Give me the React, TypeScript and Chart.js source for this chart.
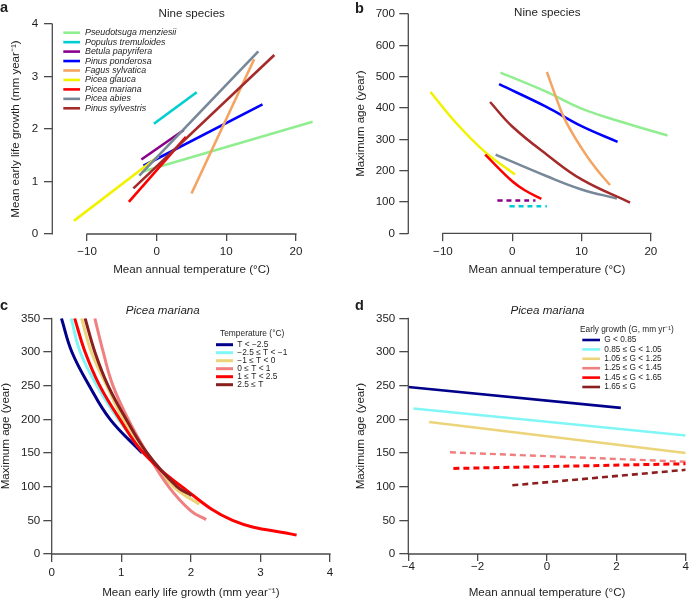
import React, { useEffect, useRef } from "react";
import { Chart, registerables } from "chart.js";
Chart.register(...registerables);

const FONT = "'Liberation Sans', Arial, Helvetica, sans-serif";
const INK = "#1e1e1e";
const AXIS = "#4a4a4a";

// ---------------- Panel a / b : nine species ----------------
const speciesLabels = [
  "Pseudotsuga menziesii",
  "Populus tremuloides",
  "Betula papyrifera",
  "Pinus ponderosa",
  "Fagus sylvatica",
  "Picea glauca",
  "Picea mariana",
  "Picea abies",
  "Pinus sylvestris",
];
const speciesColors = ["#90EE90", "#00CED1", "#8B008B", "#0000FF", "#F4A460", "#F2F200", "#FF0000", "#778899", "#A52A2A"];

// panel a: mean early life growth vs temperature [temp, growth]
const growthPseudotsuga = [[-2.0, 1.19], [22.4, 2.14]];
const growthPopulus = [[-0.4, 2.1], [5.75, 2.7]];
const growthBetula = [[-2.2, 1.42], [3.9, 1.98]];
const growthPonderosa = [[-1.9, 1.3], [15.2, 2.47]];
const growthFagus = [[5.0, 0.77], [14.0, 3.33]];
const growthGlauca = [[-11.9, 0.25], [0.25, 1.48]];
const growthMariana = [[-4.0, 0.61], [4.2, 1.85]];
const growthAbies = [[-2.5, 1.11], [14.6, 3.48]];
const growthSylvestris = [[-3.35, 0.87], [16.9, 3.41]];

// panel b: maximum age vs temperature [temp, age]
const agePseudotsuga = [[-1.7, 513], [4.8, 453], [10, 398], [16.3, 352], [22.4, 312]];
const agePopulus = [[-0.4, 86], [5.0, 86]];
const ageBetula = [[-2.15, 105], [3.35, 105]];
const agePonderosa = [[-1.9, 476], [4.8, 405], [10, 342], [15.2, 292]];
const ageFagus = [[5.0, 515], [6.3, 435], [7.6, 363], [10, 272], [12, 209], [14.1, 154]];
const ageGlauca = [[-11.8, 451], [-8.1, 352], [-3.9, 259], [0.4, 188]];
const ageMariana = [[-3.9, 251], [0, 166], [2, 135], [4.2, 110]];
const ageAbies = [[-2.4, 251], [5, 182], [10, 140], [15.1, 111]];
const ageSylvestris = [[-3.2, 419], [0, 341], [5, 251], [10, 172], [17, 98]];

// ---------------- Panel c : Picea mariana, by temperature class ----------------
const tempLabels = ["T < \u22122.5", "\u22122.5 \u2264 T < \u22121", "\u22121 \u2264 T < 0", "0 \u2264 T < 1", "1 \u2264 T < 2.5", "2.5 \u2264 T"];
const tempColors = ["#00008B", "#80F6F6", "#EBD47A", "#F08080", "#FF0000", "#8B1E1E"];
const ageTempA = [[0.14, 350], [0.29, 300], [0.54, 250], [0.84, 200], [1.3, 150]];
const ageTempB = [[0.28, 350], [0.41, 300], [0.65, 250], [0.96, 200], [1.32, 150], [1.42, 140]];
const ageTempC = [[0.43, 350], [0.57, 300], [0.79, 250], [1.03, 200], [1.37, 150], [1.75, 100], [2.12, 74]];
const ageTempD = [[0.62, 350], [0.74, 300], [0.88, 250], [1.1, 200], [1.37, 150], [1.68, 100], [2.0, 64], [2.22, 51]];
const ageTempE = [[0.33, 350], [0.48, 300], [0.69, 250], [0.98, 200], [1.32, 150], [1.87, 100], [2.6, 50], [3.52, 28]];
const ageTempF = [[0.48, 350], [0.62, 300], [0.81, 250], [1.07, 200], [1.37, 150], [1.8, 100], [2.01, 87]];

// ---------------- Panel d : Picea mariana, by early growth class ----------------
const growthClassLabels = ["G < 0.85", "0.85 \u2264 G < 1.05", "1.05 \u2264 G < 1.25", "1.25 \u2264 G < 1.45", "1.45 \u2264 G < 1.65", "1.65 \u2264 G"];
const growthClassColors = ["#00008B", "#80F6F6", "#EBD47A", "#F08080", "#FF0000", "#8B1E1E"];
const ageG1 = [[-4.0, 248], [2.13, 217]];
const ageG2 = [[-3.85, 216], [4.0, 176]];
const ageG3 = [[-3.4, 196], [4.0, 150]];
const ageG4 = [[-2.8, 151], [4.0, 137]];
const ageG5 = [[-2.7, 127], [4.0, 134]];
const ageG6 = [[-1.0, 102], [4.0, 125]];

// tick values
const tempTicks = [-10, 0, 10, 20];
const growthTicks = [0, 1, 2, 3, 4];
const ageTicks700 = [0, 100, 200, 300, 400, 500, 600, 700];
const ageTicks350 = [0, 50, 100, 150, 200, 250, 300, 350];
const growthXTicks = [0, 1, 2, 3, 4];
const tempTicksD = [-4, -2, 0, 2, 4];

function mkLine(label: string, pts: number[][], color: string, width: number, idx: number, n: number, dash?: number[], smooth?: boolean) {
  return {
    label,
    data: pts.map(([x, y]) => ({ x, y })),
    borderColor: color,
    backgroundColor: color,
    borderWidth: width,
    borderDash: dash || [],
    borderCapStyle: "butt",
    borderJoinStyle: "round",
    pointRadius: 0,
    pointHoverRadius: 0,
    fill: false,
    tension: smooth ? 0.4 : 0,
    order: n - idx,
  };
}

function fmt(v: number) {
  return v < 0 ? "\u2212" + Math.abs(v) : String(v);
}

type TextItem = { text: string; x: number; y: number; font: string; align: CanvasTextAlign; baseline: CanvasTextBaseline };
type LegendSpec = { title?: { text: string; x: number; y: number }; x0: number; x1: number; tx: number; y0: number; dy: number; font: string; lw: number };

type Spec = {
  left: number; top: number; w: number; h: number;
  area: { l: number; r: number; t: number; b: number };
  x: { min: number; max: number; ticks: number[]; tickLen: number; labPad: number; title: string; titlePad: number };
  y: { min: number; max: number; ticks: number[]; tickLen: number; labPad: number; title: string; titlePad: number };
  datasets: any[];
  texts: TextItem[];
  legend?: LegendSpec;
};

function overlay(spec: Spec) {
  return {
    id: "overlay",
    afterDraw(chart: any) {
      const ctx = chart.ctx as CanvasRenderingContext2D;
      const ca = chart.chartArea;
      const xs = chart.scales.x;
      const ys = chart.scales.y;
      ctx.save();
      // R-style axis lines spanning first to last tick
      ctx.strokeStyle = AXIS;
      ctx.lineWidth = 1.3;
      ctx.setLineDash([]);
      const xt = xs.ticks;
      const yt = ys.ticks;
      ctx.beginPath();
      ctx.moveTo(xs.getPixelForValue(xt[0].value) - 0.6, ca.bottom);
      ctx.lineTo(xs.getPixelForValue(xt[xt.length - 1].value) + 0.6, ca.bottom);
      ctx.moveTo(ca.left, ys.getPixelForValue(yt[0].value) + 0.6);
      ctx.lineTo(ca.left, ys.getPixelForValue(yt[yt.length - 1].value) - 0.6);
      ctx.stroke();
      // texts
      ctx.fillStyle = INK;
      for (const t of spec.texts) {
        ctx.font = t.font;
        ctx.textAlign = t.align;
        ctx.textBaseline = t.baseline;
        ctx.fillText(t.text, t.x, t.y);
      }
      // legend
      const lg = spec.legend;
      if (lg) {
        ctx.font = lg.font;
        ctx.textBaseline = "middle";
        ctx.textAlign = "left";
        if (lg.title) {
          ctx.fillStyle = INK;
          ctx.fillText(lg.title.text, lg.title.x, lg.title.y);
        }
        chart.data.datasets.forEach((ds: any, i: number) => {
          const y = lg.y0 + i * lg.dy;
          ctx.strokeStyle = ds.borderColor;
          ctx.lineWidth = lg.lw;
          ctx.lineCap = "butt";
          ctx.beginPath();
          ctx.moveTo(lg.x0, y);
          ctx.lineTo(lg.x1, y);
          ctx.stroke();
          ctx.fillStyle = INK;
          ctx.fillText(ds.label, lg.tx, y);
        });
      }
      ctx.restore();
    },
  };
}

function buildConfig(spec: Spec): any {
  const tickFont = { family: FONT, size: 11.6, lineHeight: 1.2 };
  const titleFont = { family: FONT, size: 11.6, lineHeight: 1 };
  return {
    type: "line",
    data: { datasets: spec.datasets },
    options: {
      responsive: false,
      animation: false,
      events: [],
      layout: { padding: { left: 0, top: spec.area.t, right: spec.w - spec.area.r, bottom: 0 } },
      plugins: { legend: { display: false }, title: { display: false }, tooltip: { enabled: false } },
      scales: {
        x: {
          type: "linear",
          position: "bottom",
          min: spec.x.min,
          max: spec.x.max,
          afterBuildTicks: (s: any) => {
            s.ticks = spec.x.ticks.map((v) => ({ value: v }));
          },
          afterFit: (s: any) => {
            s.height = spec.h - spec.area.b;
            s.paddingLeft = 0;
            s.paddingRight = 0;
          },
          grid: { display: true, drawOnChartArea: false, drawTicks: true, tickLength: spec.x.tickLen, color: AXIS, lineWidth: 1.3 },
          border: { display: false },
          ticks: { font: tickFont, color: INK, padding: spec.x.labPad, maxRotation: 0, autoSkip: false, callback: (v: number) => fmt(v) },
          title: { display: true, text: spec.x.title, font: titleFont, color: INK, padding: { top: 0, bottom: spec.x.titlePad } },
        },
        y: {
          type: "linear",
          position: "left",
          min: spec.y.min,
          max: spec.y.max,
          afterBuildTicks: (s: any) => {
            s.ticks = spec.y.ticks.map((v) => ({ value: v }));
          },
          afterFit: (s: any) => {
            s.width = spec.area.l;
            s.paddingTop = 0;
            s.paddingBottom = 0;
          },
          grid: { display: true, drawOnChartArea: false, drawTicks: true, tickLength: spec.y.tickLen, color: AXIS, lineWidth: 1.3 },
          border: { display: false },
          ticks: { font: tickFont, color: INK, padding: spec.y.labPad, autoSkip: false, callback: (v: number) => fmt(v) },
          title: { display: true, text: spec.y.title, font: titleFont, color: INK, padding: { top: spec.y.titlePad, bottom: 0 } },
        },
      },
    },
    plugins: [overlay(spec)],
  };
}

const growthSeries = [growthPseudotsuga, growthPopulus, growthBetula, growthPonderosa, growthFagus, growthGlauca, growthMariana, growthAbies, growthSylvestris];
const ageSeries = [agePseudotsuga, agePopulus, ageBetula, agePonderosa, ageFagus, ageGlauca, ageMariana, ageAbies, ageSylvestris];
const tempSeries = [ageTempA, ageTempB, ageTempC, ageTempD, ageTempE, ageTempF];
const gClassSeries = [ageG1, ageG2, ageG3, ageG4, ageG5, ageG6];

const bold = `bold 14.5px ${FONT}`;
const plain = `11.6px ${FONT}`;
const ital = `italic 11.6px ${FONT}`;
const xTitleTemp = "Mean annual temperature (\u00B0C)";
const growthTitle = "Mean early life growth (mm year\u207B\u00B9)";
const ageTitle = "Maximum age (year)";

const specA: Spec = {
  left: 0, top: 0, w: 345, h: 300,
  area: { l: 52.3, r: 330.7, t: 24, b: 234 },
  x: { min: -15, max: 25, ticks: tempTicks, tickLen: 7, labPad: 3.5, title: xTitleTemp, titlePad: 24.9 },
  y: { min: 0, max: 4, ticks: growthTicks, tickLen: 8.3, labPad: 5.7, title: growthTitle, titlePad: 10.2 },
  datasets: growthSeries.map((s, i) => mkLine(speciesLabels[i], s, speciesColors[i], 2.6, i, 9)),
  texts: [
    { text: "a", x: 0, y: 12, font: bold, align: "left", baseline: "alphabetic" },
    { text: "Nine species", x: 191.7, y: 13.3, font: plain, align: "center", baseline: "middle" },
  ],
  legend: { x0: 63.3, x1: 80, tx: 85, y0: 32.7, dy: 9.45, font: `italic 8.9px ${FONT}`, lw: 2.6 },
};

const ageDash = [null, [5, 4], [5, 4], null, null, null, null, null, null];
const specB: Spec = {
  left: 345, top: 0, w: 344, h: 300,
  area: { l: 63.3, r: 340.5, t: 14, b: 233.3 },
  x: { min: -15, max: 25, ticks: tempTicks, tickLen: 8, labPad: 4, title: xTitleTemp, titlePad: 24.9 },
  y: { min: 0, max: 700, ticks: ageTicks700, tickLen: 9, labPad: 4.3, title: ageTitle, titlePad: 9.9 },
  datasets: ageSeries.map((s, i) => mkLine(speciesLabels[i], s, speciesColors[i], 2.5, i, 9, ageDash[i] || undefined, true)),
  texts: [
    { text: "b", x: 10, y: 13, font: bold, align: "left", baseline: "alphabetic" },
    { text: "Nine species", x: 202.3, y: 13, font: plain, align: "center", baseline: "middle" },
  ],
};

const specC: Spec = {
  left: 0, top: 300, w: 345, h: 299,
  area: { l: 51.7, r: 330, t: 18.3, b: 254 },
  x: { min: 0, max: 4, ticks: growthXTicks, tickLen: 8, labPad: 4.3, title: growthTitle, titlePad: 0 },
  y: { min: 0, max: 350, ticks: ageTicks350, tickLen: 8.4, labPad: 3, title: ageTitle, titlePad: 0.4 },
  datasets: tempSeries.map((s, i) => mkLine(tempLabels[i], s, tempColors[i], 3, i, 6, undefined, true)),
  texts: [
    { text: "c", x: 0, y: 10, font: bold, align: "left", baseline: "alphabetic" },
    { text: "Picea mariana", x: 162.7, y: 10.7, font: ital, align: "center", baseline: "middle" },
  ],
  legend: { title: { text: "Temperature (\u00B0C)", x: 220, y: 34 }, x0: 216, x1: 233, tx: 237.3, y0: 44.7, dy: 8, font: `8.4px ${FONT}`, lw: 3 },
};

const gDash = [null, null, null, [6, 4], [6, 4], [6, 4]];
const gWidth = [2.6, 2.6, 2.6, 2.4, 3, 2.6];
const specD: Spec = {
  left: 345, top: 300, w: 344, h: 299,
  area: { l: 63.3, r: 340.7, t: 18.3, b: 254 },
  x: { min: -4, max: 4, ticks: tempTicksD, tickLen: 7, labPad: -1.5, title: xTitleTemp, titlePad: 0 },
  y: { min: 0, max: 350, ticks: ageTicks350, tickLen: 9, labPad: 4, title: ageTitle, titlePad: 9.9 },
  datasets: gClassSeries.map((s, i) => mkLine(growthClassLabels[i], s, growthClassColors[i], gWidth[i], i, 6, gDash[i] || undefined)),
  texts: [
    { text: "d", x: 10, y: 10, font: bold, align: "left", baseline: "alphabetic" },
    { text: "Picea mariana", x: 202.5, y: 10.7, font: ital, align: "center", baseline: "middle" },
  ],
  legend: { title: { text: "Early growth (G, mm yr\u207B\u00B9)", x: 235, y: 29.3 }, x0: 237.3, x1: 255, tx: 259.3, y0: 40, dy: 9.4, font: `8.3px ${FONT}`, lw: 2.6 },
};

function Panel({ spec }: { spec: Spec }) {
  const ref = useRef<HTMLCanvasElement>(null);
  useEffect(() => {
    const chart = new Chart(ref.current as HTMLCanvasElement, buildConfig(spec));
    return () => chart.destroy();
  }, []);
  return (
    <div style={{ position: "absolute", left: spec.left, top: spec.top, width: spec.w, height: spec.h }}>
      <canvas ref={ref} width={spec.w} height={spec.h} style={{ width: spec.w, height: spec.h, display: "block" }} />
    </div>
  );
}

export default function App() {
  return (
    <div style={{ position: "absolute", left: 0, top: 0, width: 689, height: 599, background: "#ffffff", overflow: "hidden", fontFamily: FONT }}>
      <Panel spec={specA} />
      <Panel spec={specB} />
      <Panel spec={specC} />
      <Panel spec={specD} />
    </div>
  );
}
